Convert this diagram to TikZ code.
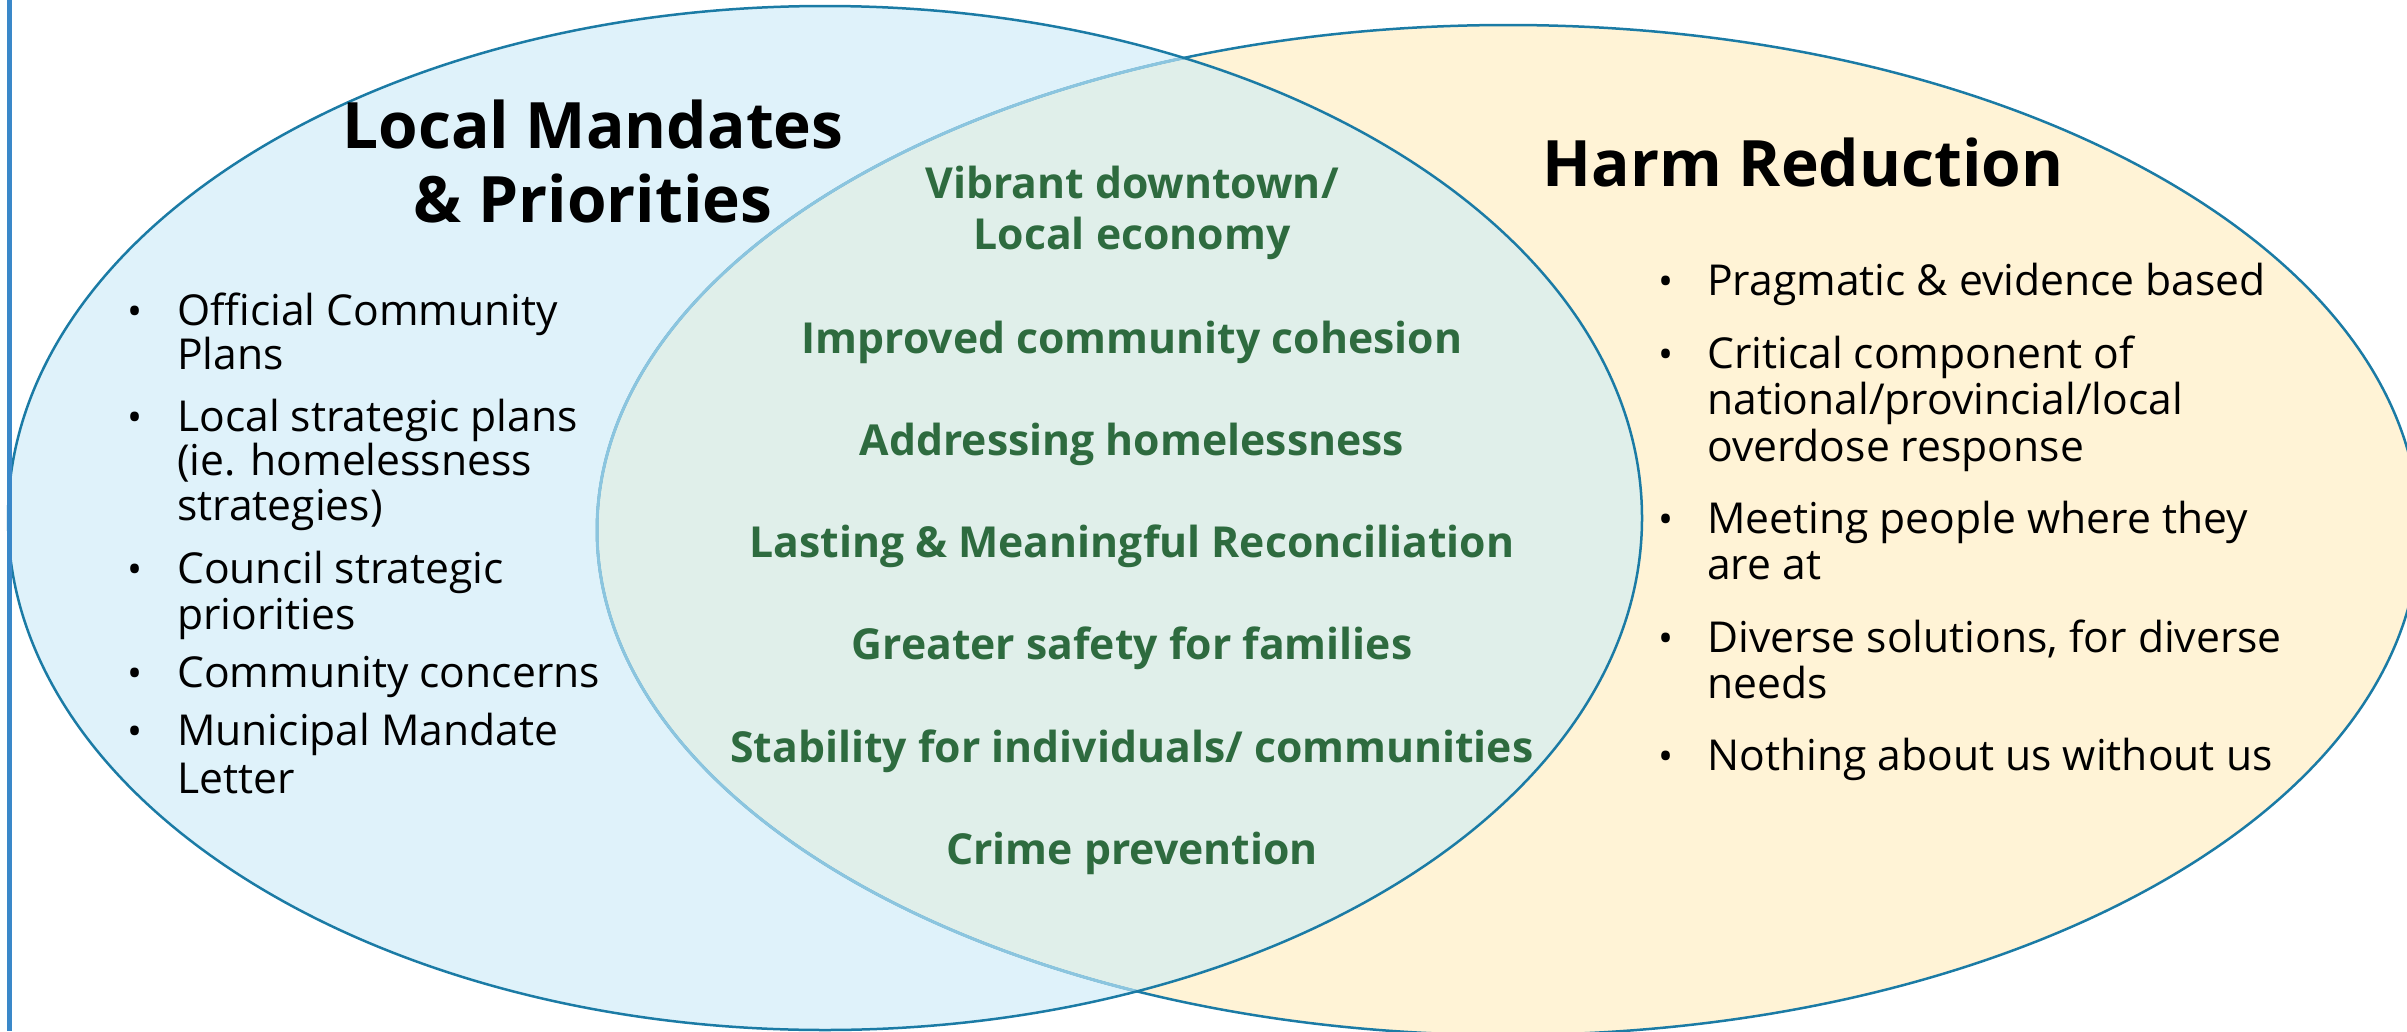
\documentclass[tikz,border=0pt]{standalone}
\usepackage{fontspec}
\setmainfont{Open Sans}
\definecolor{lineblue}{HTML}{1B7BA5}
\definecolor{lightline}{HTML}{8BC5DF}
\definecolor{fillblue}{HTML}{DFF2FA}
\definecolor{fillcream}{HTML}{FFF3D6}
\definecolor{filloverlap}{HTML}{E0EFEA}
\definecolor{greentext}{HTML}{2E6B3F}
\definecolor{sidebar}{HTML}{3A88C9}
\begin{document}
\begin{tikzpicture}[x=1pt,y=-1pt,
  title/.style={font=\fontsize{64}{74}\selectfont\bfseries, anchor=base, inner sep=0pt},
  item/.style={font=\fontsize{42.6}{45}\selectfont, anchor=base west, inner sep=0pt},
  bul/.style={font=\fontsize{40}{45}\selectfont, anchor=base, inner sep=0pt},
  mid/.style={font=\fontsize{42.7}{51}\selectfont\bfseries, text=greentext, anchor=base, inner sep=0pt},
  ellL/.style={x radius=817pt, y radius=512pt},
  ellR/.style={x radius=911pt, y radius=505pt}]
\useasboundingbox (0,0) rectangle (2407,1031);
\coordinate (cL) at (825,518);
\coordinate (cR) at (1508,530);
\fill[fillblue] (cL) ellipse [ellL];
\fill[fillcream] (cR) ellipse [ellR];
\begin{scope}
  \clip (cL) ellipse [ellL];
  \fill[filloverlap] (cR) ellipse [ellR];
\end{scope}
\draw[lineblue, line width=2.5pt] (cR) ellipse [ellR];
\begin{scope}
  \clip (cL) ellipse [ellL];
  \draw[lightline, line width=3pt] (cR) ellipse [ellR];
\end{scope}
\draw[lineblue, line width=2.5pt] (cL) ellipse [ellL];
\coordinate (sbtop) at (9,0);
\coordinate (sbbot) at (9,1031);
\draw[sidebar, line width=5pt] (sbtop) -- (sbbot);

% titles
\node[title] (tl1) at (593,148) {Local Mandates};
\node[title] (tl2) at (593,222) {\& Priorities};
\node[title] (tr) at (1803,186) {Harm Reduction};

% middle
\node[mid] (m1a) at (1132,198) {Vibrant downtown/};
\node[mid] (m1b) at (1132,249) {Local economy};
\node[mid] (m2) at (1132,353) {Improved community cohesion};
\node[mid] (m3) at (1132,455) {Addressing homelessness};
\node[mid] (m4) at (1132,557) {Lasting \& Meaningful Reconciliation};
\node[mid] (m5) at (1132,659) {Greater safety for families};
\node[mid] (m6) at (1132,762) {Stability for individuals/ communities};
\node[mid] (m7) at (1132,864) {Crime prevention};

% left bullets
\node[bul] (lb1) at (135,325) {•};
\node[item] (l1a) at (177,325) {Official Community};
\node[item] (l1b) at (177,369) {Plans};
\node[bul] (lb2) at (135,431) {•};
\node[item] (l2a) at (177,431) {Local strategic plans};
\node[item] (l2b) at (177,475) {(ie. homelessness};
\node[item] (l2c) at (177,520) {strategies)};
\node[bul] (lb3) at (135,583) {•};
\node[item] (l3a) at (177,583) {Council strategic};
\node[item] (l3b) at (177,629) {priorities};
\node[bul] (lb4) at (135,687) {•};
\node[item] (l4a) at (177,687) {Community concerns};
\node[bul] (lb5) at (135,745) {•};
\node[item] (l5a) at (177,745) {Municipal Mandate};
\node[item] (l5b) at (177,793) {Letter};

% right bullets
\node[bul] (rb1) at (1666,295) {•};
\node[item] (r1a) at (1707,295) {Pragmatic \& evidence based};
\node[bul] (rb2) at (1666,368) {•};
\node[item] (r2a) at (1707,368) {Critical component of};
\node[item] (r2b) at (1707,414) {national/provincial/local};
\node[item] (r2c) at (1707,461) {overdose response};
\node[bul] (rb3) at (1666,533) {•};
\node[item] (r3a) at (1707,533) {Meeting people where they};
\node[item] (r3b) at (1707,579) {are at};
\node[bul] (rb4) at (1666,652) {•};
\node[item] (r4a) at (1707,652) {Diverse solutions, for diverse};
\node[item] (r4b) at (1707,698) {needs};
\node[bul] (rb5) at (1666,770) {•};
\node[item] (r5a) at (1707,770) {Nothing about us without us};
\end{tikzpicture}
\end{document}
